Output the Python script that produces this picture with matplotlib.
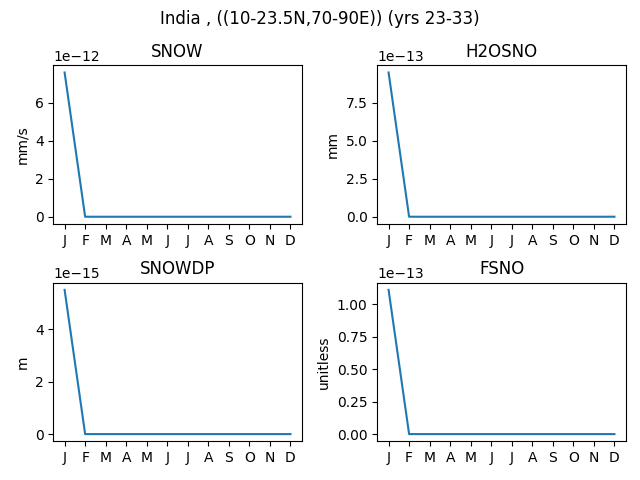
import matplotlib
matplotlib.use("Agg")
import matplotlib.pyplot as plt

months = ["J", "F", "M", "A", "M", "J", "J", "A", "S", "O", "N", "D"]
snow = [7.6e-12] + [0.0] * 11
h2osno = [9.5e-13] + [0.0] * 11
snowdp = [5.5e-15] + [0.0] * 11
fsno = [1.11e-13] + [0.0] * 11

titles = ["SNOW", "H2OSNO", "SNOWDP", "FSNO"]
units = ["mm/s", "mm", "m", "unitless"]
series = [snow, h2osno, snowdp, fsno]

fig, axes = plt.subplots(2, 2, figsize=(6.4, 4.8), dpi=100)
x = list(range(len(months)))
for ax, t, u, s in zip(axes.flat, titles, units, series):
    ax.plot(x, s)
    ax.set_title(t)
    ax.set_ylabel(u)
    ax.set_xticks(x)
    ax.set_xticklabels(months)
fig.suptitle("India , ((10-23.5N,70-90E)) (yrs 23-33)")
fig.subplots_adjust(left=0.0833, right=0.9777, top=0.864, bottom=0.0806,
                    wspace=0.304, hspace=0.37)
fig.savefig("out.png")
